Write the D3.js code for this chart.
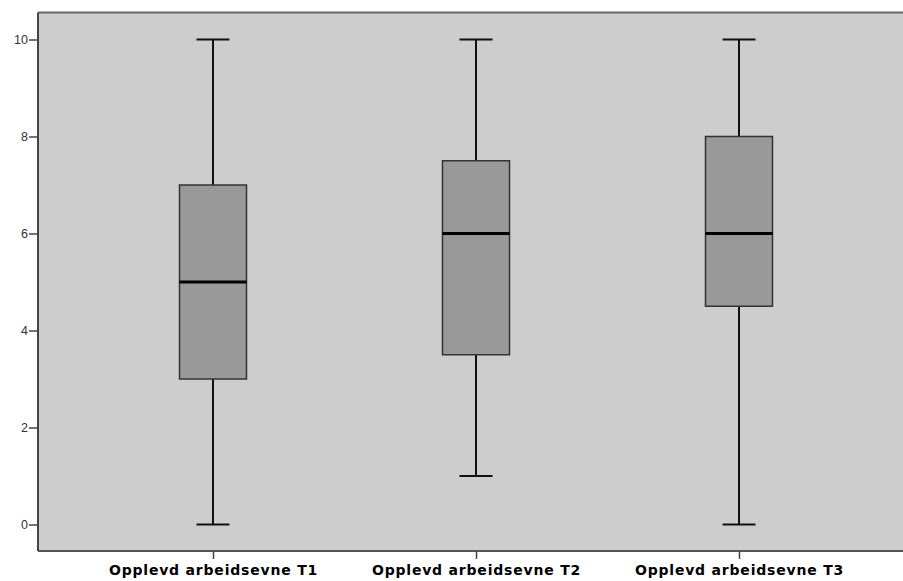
<!DOCTYPE html>
<html><head><meta charset="utf-8">
<script src="https://cdn.jsdelivr.net/npm/d3@7"></script>
<style>body{margin:0;background:#fff}svg{display:block}</style>
</head><body><svg id="c" width="903" height="581"></svg>
<script>
const categories = ["Opplevd arbeidsevne T1","Opplevd arbeidsevne T2","Opplevd arbeidsevne T3"];
const mins    = [0, 1, 0];
const q1s     = [3, 3.5, 4.5];
const medians = [5, 6, 6];
const q3s     = [7, 7.5, 8];
const maxs    = [10, 10, 10];
const yTicks  = [0, 2, 4, 6, 8, 10];

const svg = d3.select("#c");
const L = 38, R = 950, T = 12.5, B = 551;
const y = d3.scaleLinear().domain([0, 10]).range([524.5, 39.5]);
const x = d3.scalePoint().domain(categories).range([213, 739]);
const boxW = 67, capW = 33;

svg.append("rect").attr("x", L).attr("y", T).attr("width", R - L).attr("height", B - T)
  .attr("fill", "#cdcdcd");

svg.append("line").attr("x1", L).attr("x2", 903).attr("y1", T).attr("y2", T).attr("stroke", "#666").attr("stroke-width", 2);
svg.append("line").attr("x1", L).attr("x2", 903).attr("y1", B).attr("y2", B).attr("stroke", "#555").attr("stroke-width", 2);

const ya = svg.append("g").attr("transform", `translate(${L},0)`)
  .call(d3.axisLeft(y).tickValues(yTicks).tickSize(9).tickFormat(d3.format("d")));
ya.select(".domain").attr("d", `M0,${T}V${B}`).attr("stroke", "#444").attr("stroke-width", 2);
ya.selectAll(".tick line").attr("stroke", "#444").attr("stroke-width", 1.5);
ya.selectAll(".tick text").attr("font-family", "Arial, 'Liberation Sans', sans-serif")
  .attr("font-size", 12.5).attr("fill", "#333").attr("x", -10);

const xa = svg.append("g").attr("transform", `translate(0,${B})`)
  .call(d3.axisBottom(x).tickSize(8).tickPadding(6));
xa.select(".domain").remove();
xa.selectAll(".tick line").attr("stroke", "#444").attr("stroke-width", 1.5);
xa.selectAll(".tick text").attr("font-family", "'DejaVu Sans', sans-serif")
  .attr("font-size", 14).attr("font-weight", "bold").attr("letter-spacing", "0.8px").attr("fill", "#000");

const g = svg.append("g");
categories.forEach((c, i) => {
  const cx = x(c);
  g.append("line").attr("x1", cx).attr("x2", cx).attr("y1", y(maxs[i])).attr("y2", y(q3s[i]))
    .attr("stroke", "#111").attr("stroke-width", 2);
  g.append("line").attr("x1", cx).attr("x2", cx).attr("y1", y(q1s[i])).attr("y2", y(mins[i]))
    .attr("stroke", "#111").attr("stroke-width", 2);
  [maxs[i], mins[i]].forEach(v => {
    g.append("line").attr("x1", cx - capW / 2).attr("x2", cx + capW / 2).attr("y1", y(v)).attr("y2", y(v))
      .attr("stroke", "#111").attr("stroke-width", 2);
  });
  g.append("rect").attr("x", cx - boxW / 2).attr("y", y(q3s[i])).attr("width", boxW)
    .attr("height", y(q1s[i]) - y(q3s[i])).attr("fill", "#999999").attr("stroke", "#333").attr("stroke-width", 1.5);
  g.append("line").attr("x1", cx - boxW / 2).attr("x2", cx + boxW / 2).attr("y1", y(medians[i])).attr("y2", y(medians[i]))
    .attr("stroke", "#000").attr("stroke-width", 3);
});
</script></body></html>
